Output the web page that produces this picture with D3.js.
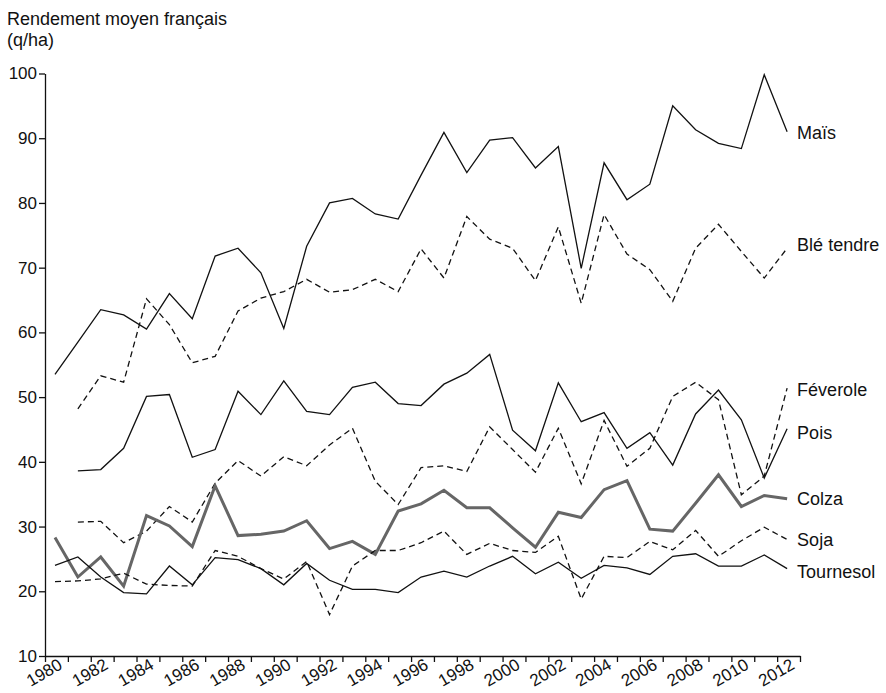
<!DOCTYPE html>
<html>
<head>
<meta charset="utf-8">
<script src="https://cdn.jsdelivr.net/npm/d3@7"></script>
<style>
  html, body { margin: 0; padding: 0; background: #fff; }
  svg { display: block; font-family: "Liberation Sans", Arial, Helvetica, sans-serif; }
</style>
</head>
<body>
<svg id="chart" width="886" height="693"></svg>
<script>
const years = d3.range(1980, 2013);
const yTicks = [10, 20, 30, 40, 50, 60, 70, 80, 90, 100];

const mais = [53.5, 58.5, 63.5, 62.7, 60.5, 66.0, 62.1, 71.8, 73.0, 69.2, 60.6, 73.3, 80.0, 80.7, 78.3, 77.5, 84.3, 90.9, 84.7, 89.7, 90.1, 85.4, 88.7, 69.9, 86.2, 80.5, 82.9, 95.0, 91.3, 89.2, 88.4, 99.8, 91.0];
const ble = [null, 48.2, 53.3, 52.3, 65.2, 61.2, 55.3, 56.3, 63.3, 65.3, 66.3, 68.2, 66.2, 66.6, 68.2, 66.3, 72.9, 68.4, 77.9, 74.4, 73.0, 68.0, 76.3, 64.5, 78.2, 72.1, 69.7, 64.8, 73.0, 76.7, 72.5, 68.4, 73.0];
const feverole = [null, 30.7, 30.8, 27.5, 29.3, 33.1, 30.7, 36.7, 40.2, 37.8, 40.8, 39.4, 42.6, 45.2, 37.0, 33.4, 39.1, 39.4, 38.5, 45.4, 41.9, 38.4, 45.2, 36.6, 46.4, 39.3, 42.1, 50.1, 52.3, 49.6, 34.9, 37.8, 51.4];
const pois = [null, 38.6, 38.8, 42.1, 50.1, 50.4, 40.7, 41.9, 50.9, 47.3, 52.5, 47.8, 47.3, 51.5, 52.3, 49.0, 48.7, 52.0, 53.7, 56.6, 44.9, 41.7, 52.2, 46.2, 47.6, 42.1, 44.5, 39.5, 47.4, 51.1, 46.5, 37.5, 45.1];
const colza = [28.3, 22.2, 25.3, 20.8, 31.7, 30.1, 26.9, 36.3, 28.6, 28.8, 29.3, 30.9, 26.6, 27.7, 25.7, 32.4, 33.5, 35.6, 32.9, 32.9, 29.8, 26.8, 32.2, 31.4, 35.7, 37.1, 29.6, 29.3, 33.6, 38.0, 33.1, 34.8, 34.3];
const soja = [21.5, 21.6, 21.9, 22.8, 21.1, 20.9, 20.8, 26.3, 25.4, 23.5, 21.9, 24.6, 16.4, 23.9, 26.3, 26.3, 27.5, 29.3, 25.7, 27.4, 26.3, 26.0, 28.5, 18.8, 25.4, 25.2, 27.7, 26.4, 29.4, 25.4, 27.8, 29.9, 28.0];
const tournesol = [24.0, 25.3, 22.2, 19.8, 19.6, 23.9, 21.0, 25.2, 24.9, 23.5, 21.0, 24.3, 21.7, 20.3, 20.3, 19.8, 22.2, 23.1, 22.2, 23.9, 25.4, 22.7, 24.5, 22.0, 24.0, 23.6, 22.6, 25.4, 25.8, 23.9, 23.9, 25.6, 23.5];

const seriesNames = ["Maïs", "Blé tendre", "Féverole", "Pois", "Colza", "Soja", "Tournesol"];
const seriesValues = [mais, ble, feverole, pois, colza, soja, tournesol];
const seriesDashed = [false, true, true, false, false, true, false];
const seriesThick = [false, false, false, false, true, false, false];
const labelNudge = [1, -4, 2, 4, 0, 0, 3];

const tickShift = 0.437; // year ticks sit slightly left of the data points
const svg = d3.select("#chart");

const x = d3.scaleLinear().domain([1980 - tickShift, 2013 - tickShift]).range([45, 800]);
const y = d3.scaleLinear().domain([10, 100]).range([656, 73.5]);

// Title
svg.append("text").attr("x", 7).attr("y", 25).attr("font-size", 18).attr("fill", "#111").text("Rendement moyen français");
svg.append("text").attr("x", 7).attr("y", 46).attr("font-size", 18).attr("fill", "#111").text("(q/ha)");

// Y axis
const yAxis = svg.append("g").attr("transform", `translate(${x.range()[0]},0)`)
  .call(d3.axisLeft(y).tickValues(yTicks).tickSize(6).tickPadding(2).tickSizeOuter(0));
yAxis.selectAll("text").attr("font-size", 17).attr("fill", "#111").attr("font-family", "Liberation Sans, Arial, sans-serif");
yAxis.selectAll("line, path").attr("stroke", "#111").attr("stroke-width", 1.3);

// X axis
const tickVals = d3.range(0, 34).map(k => 1980 - tickShift + k);
const xAxis = svg.append("g").attr("transform", `translate(0,${y(10)})`)
  .call(d3.axisBottom(x).tickValues(tickVals).tickSize(6).tickSizeOuter(0)
    .tickFormat(v => { const yr = Math.round(v + tickShift); return (yr % 2 === 0 && yr <= 2012) ? String(yr) : ""; }));
xAxis.selectAll("line, path").attr("stroke", "#111").attr("stroke-width", 1.3);
xAxis.selectAll("text")
  .attr("font-size", 17).attr("fill", "#111").attr("font-family", "Liberation Sans, Arial, sans-serif")
  .attr("text-anchor", "end").attr("x", 0).attr("y", 0).attr("dy", 0)
  .attr("transform", "translate(18,12) rotate(-30)");

// Lines
const line = d3.line().defined(d => d.v != null).x(d => x(d.year)).y(d => y(d.v));
seriesValues.forEach((vals, i) => {
  const pts = years.map((yr, j) => ({ year: yr, v: vals[j] }));
  svg.append("path").datum(pts)
    .attr("fill", "none")
    .attr("stroke", seriesThick[i] ? "#666" : "#111")
    .attr("stroke-width", seriesThick[i] ? 3 : 1.3)
    .attr("stroke-dasharray", seriesDashed[i] ? "6,4" : null)
    .attr("stroke-linejoin", "miter")
    .attr("d", line);
  const last = vals[vals.length - 1];
  svg.append("text")
    .attr("x", x(2012) + 10)
    .attr("y", y(last) + labelNudge[i])
    .attr("dy", "0.35em")
    .attr("font-size", 18).attr("fill", "#111")
    .text(seriesNames[i]);
});
</script>
</body>
</html>
